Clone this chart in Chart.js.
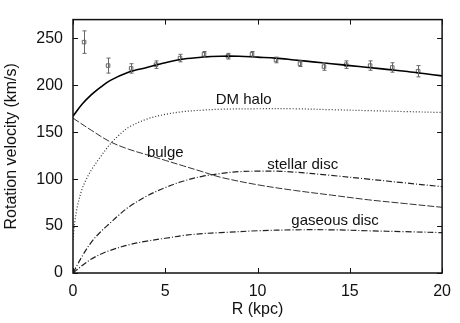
<!DOCTYPE html>
<html>
<head>
<meta charset="utf-8">
<script src="https://cdn.jsdelivr.net/npm/chart.js@4"></script>
<style>
  html, body { margin: 0; padding: 0; background: #fff; }
  #wrap { width: 460px; height: 323px; }
</style>
</head>
<body>
<div id="wrap"><canvas id="rotChart" width="460" height="323"></canvas></div>
<script>
// observed rotation curve (points with error bars)
const obsR   = [0.6, 1.9, 3.15, 4.5, 5.8, 7.1, 8.4, 9.7, 11.0, 12.3, 13.6, 14.8, 16.1, 17.3, 18.7];
const obsV   = [246, 221, 218, 222, 229, 233, 231, 233, 227, 223, 220, 222, 221, 219, 215];
const obsErr = [12, 8, 5, 4, 4, 3, 3, 3, 3, 3, 4, 4, 5, 5, 6];

// model components
const totalR = [0, 0.5, 1, 1.5, 2, 3, 4, 5, 6, 7, 8, 9, 10, 11, 12, 13, 14, 15, 16, 17, 18, 19, 20];
const totalV = [167, 180, 190, 198, 205, 214, 219, 224, 228, 230, 231, 231, 230, 229, 227, 225, 223, 221, 219, 217, 215, 212.5, 210];

const haloR = [0, 0.1, 0.25, 0.5, 0.75, 1, 1.5, 2, 2.5, 3, 4, 5, 6, 7, 8, 10, 12, 14, 16, 18, 20];
const haloV = [35, 55, 72, 90, 101, 110, 124, 137, 147, 155, 164, 169, 172, 173.5, 174.5, 175, 175, 174, 173, 172, 171];

const bulgeR = [0, 1, 2, 3, 4, 5, 6, 7, 8, 10, 12, 14, 16, 18, 20];
const bulgeV = [165, 152, 140, 132, 126, 120, 114, 108, 102, 94, 88, 83, 78, 74, 70];

const stellarR = [0, 0.5, 1, 1.5, 2, 2.5, 3, 4, 5, 6, 7, 8, 9, 10, 11, 12, 14, 16, 18, 20];
const stellarV = [0, 18, 33, 44, 53, 62, 70, 82, 91, 98, 103, 106, 108, 108.5, 108.5, 107.5, 104, 100, 96, 92];

const gasR = [0, 0.5, 1, 1.5, 2, 3, 4, 5, 6, 7, 8, 10, 12, 14, 16, 18, 20];
const gasV = [0, 8, 15, 20, 24, 30, 34, 37, 40, 42, 43, 45, 46, 46, 45, 44, 43];

// axis ticks
const xTicks = [0, 5, 10, 15, 20];
const yTicks = [0, 50, 100, 150, 200, 250];

// curve labels (data coords)
const labelText = ['DM halo', 'bulge', 'stellar disc', 'gaseous disc'];
const labelR    = [9.25, 5.0, 12.45, 14.2];
const labelV    = [185, 128, 115, 56];

const pts = (xs, ys) => xs.map((x, i) => ({ x: x, y: ys[i] }));
const FONT = '"Liberation Sans", Arial, Helvetica, sans-serif';

const decorPlugin = {
  id: 'decor',
  afterDatasetsDraw(chart) {
    const { ctx, chartArea: a, scales: { x, y } } = chart;
    ctx.save();

    // error bars
    ctx.strokeStyle = '#666';
    ctx.lineWidth = 1;
    obsR.forEach((r, i) => {
      const px = Math.round(x.getPixelForValue(r)) + 0.5;
      const top = y.getPixelForValue(obsV[i] + obsErr[i]);
      const bot = y.getPixelForValue(obsV[i] - obsErr[i]);
      ctx.beginPath();
      ctx.moveTo(px, top); ctx.lineTo(px, bot);
      ctx.moveTo(px - 2, top); ctx.lineTo(px + 2, top);
      ctx.moveTo(px - 2, bot); ctx.lineTo(px + 2, bot);
      ctx.stroke();
    });

    // frame + inward ticks
    ctx.strokeStyle = '#111';
    ctx.lineWidth = 1.5;
    ctx.strokeRect(a.left, a.top, a.right - a.left, a.bottom - a.top);
    ctx.lineWidth = 1;
    ctx.beginPath();
    xTicks.forEach(v => {
      const px = Math.round(x.getPixelForValue(v)) + 0.5;
      ctx.moveTo(px, a.bottom); ctx.lineTo(px, a.bottom - 5);
      ctx.moveTo(px, a.top); ctx.lineTo(px, a.top + 5);
    });
    yTicks.forEach(v => {
      const py = Math.round(y.getPixelForValue(v)) + 0.5;
      ctx.moveTo(a.left, py); ctx.lineTo(a.left + 5, py);
      ctx.moveTo(a.right, py); ctx.lineTo(a.right - 5, py);
    });
    ctx.stroke();

    // curve labels
    ctx.fillStyle = '#111';
    ctx.font = '15px ' + FONT;
    ctx.textAlign = 'center';
    ctx.textBaseline = 'middle';
    labelText.forEach((t, i) => {
      ctx.fillText(t, x.getPixelForValue(labelR[i]), y.getPixelForValue(labelV[i]));
    });
    ctx.restore();
  }
};

const lineDs = (data, color, width, dash) => ({
  type: 'line',
  data: data,
  borderColor: color,
  borderWidth: width,
  borderDash: dash,
  pointRadius: 0,
  fill: false,
  tension: 0.35
});

new Chart(document.getElementById('rotChart'), {
  type: 'scatter',
  data: {
    datasets: [
      lineDs(pts(totalR, totalV), '#000', 1.6, []),
      lineDs(pts(haloR, haloV), '#333', 1.2, [1, 2]),
      lineDs(pts(bulgeR, bulgeV), '#333', 1, [7, 2]),
      lineDs(pts(stellarR, stellarV), '#222', 1.2, [6, 2, 1, 2]),
      lineDs(pts(gasR, gasV), '#222', 1.2, [6, 2, 1, 2]),
      {
        type: 'scatter',
        data: pts(obsR, obsV),
        pointStyle: 'rect',
        pointRadius: 2.5,
        borderColor: '#666',
        backgroundColor: 'rgba(0,0,0,0)',
        borderWidth: 1
      }
    ]
  },
  options: {
    responsive: false,
    animation: false,
    layout: { padding: { left: 0, top: 3, right: 13, bottom: 0 } },
    plugins: { legend: { display: false }, tooltip: { enabled: false } },
    scales: {
      x: {
        type: 'linear', min: 0, max: 20,
        afterFit: s => { s.height = 50; },
        afterBuildTicks: s => { s.ticks = xTicks.map(v => ({ value: v })); },
        grid: { display: false, drawTicks: false },
        border: { display: false },
        ticks: { color: '#111', padding: 9, font: { family: FONT, size: 16 }, maxRotation: 0 },
        title: { display: true, text: 'R (kpc)', color: '#111', padding: { top: 0, bottom: 4 }, font: { family: FONT, size: 16 } }
      },
      y: {
        type: 'linear', min: 0, max: 270,
        afterFit: s => { s.width = 73; },
        afterBuildTicks: s => { s.ticks = yTicks.map(v => ({ value: v })); },
        grid: { display: false, drawTicks: false },
        border: { display: false },
        ticks: { color: '#111', padding: 10, font: { family: FONT, size: 16 } },
        title: { display: true, text: 'Rotation velocity (km/s)', color: '#111', padding: { top: 2, bottom: 0 }, font: { family: FONT, size: 16 } }
      }
    }
  },
  plugins: [decorPlugin]
});
</script>
</body>
</html>
